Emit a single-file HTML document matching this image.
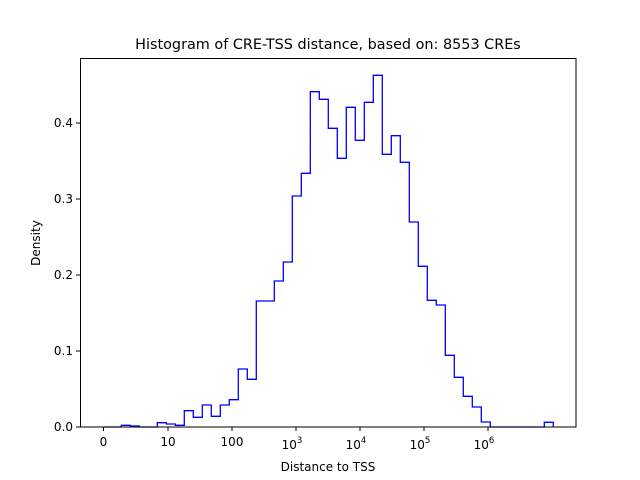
<!DOCTYPE html>
<html><head><meta charset="utf-8"><style>body{margin:0;background:#fff}svg{display:block;font-family:"DejaVu Sans","Liberation Sans",sans-serif}</style></head><body>
<svg width="640" height="480" viewBox="0 0 640 480" xmlns="http://www.w3.org/2000/svg">
<rect width="640" height="480" fill="#fff"/>
<polyline fill="none" stroke="#0000ff" stroke-width="1.3" points="
104,427 121.3,427 121.3,425.3 130.3,425.3 130.3,426 139.3,426 139.3,427 157.3,427 157.3,422.7 166.3,422.7 166.3,424 175.3,424 175.3,425.3 184.3,425.3 184.3,410.7 193.3,410.7 193.3,417.3 202.3,417.3 202.3,405 211.3,405 211.3,416.3 220.3,416.3 220.3,405 229.3,405 229.3,399.7 238.3,399.7 238.3,369 247.3,369 247.3,379.3 256.3,379.3 256.3,301 274.3,301 274.3,281 283.3,281 283.3,262 292.3,262 292.3,196 301.3,196 301.3,173.3 310.3,173.3 310.3,91.7 319.3,91.7 319.3,99.3 328.3,99.3 328.3,128.3 337.3,128.3 337.3,158.3 346.3,158.3 346.3,107.3 355.3,107.3 355.3,140.3 364.3,140.3 364.3,102.3 373.3,102.3 373.3,75.3 382.3,75.3 382.3,154.3 391.3,154.3 391.3,135.7 400.3,135.7 400.3,162.3 409.3,162.3 409.3,222 418.3,222 418.3,266.3 427.3,266.3 427.3,300.3 436.3,300.3 436.3,305 445.3,305 445.3,355.3 454.3,355.3 454.3,377.3 463.3,377.3 463.3,396.3 472.3,396.3 472.3,407 481.3,407 481.3,422 490.3,422 490.3,427 544.3,427 544.3,422.3 553.3,422.3 553.3,427"/>
<rect x="80.5" y="58.5" width="495.5" height="368.5" fill="none" stroke="#000" stroke-width="1"/>
<g stroke="#000" stroke-width="1">
<line x1="103.5" y1="427" x2="103.5" y2="431"/><line x1="168" y1="427" x2="168" y2="431"/><line x1="232" y1="427" x2="232" y2="431"/><line x1="296" y1="427" x2="296" y2="431"/><line x1="360" y1="427" x2="360" y2="431"/><line x1="424" y1="427" x2="424" y2="431"/><line x1="488" y1="427" x2="488" y2="431"/>
<line x1="76" y1="427" x2="80" y2="427"/><line x1="76" y1="351" x2="80" y2="351"/><line x1="76" y1="275" x2="80" y2="275"/><line x1="76" y1="199" x2="80" y2="199"/><line x1="76" y1="123" x2="80" y2="123"/>
</g>
<g font-size="12" fill="#000" text-anchor="middle">
<text x="103.5" y="446">0</text><text x="168" y="446">10</text><text x="232" y="446">100</text>
<text x="292" y="449">10<tspan font-size="8.5" dy="-6">3</tspan></text>
<text x="356" y="449">10<tspan font-size="8.5" dy="-6">4</tspan></text>
<text x="420" y="449">10<tspan font-size="8.5" dy="-6">5</tspan></text>
<text x="484" y="449">10<tspan font-size="8.5" dy="-6">6</tspan></text>
</g>
<g font-size="12" fill="#000" text-anchor="end">
<text x="73" y="431">0.0</text><text x="73" y="355">0.1</text><text x="73" y="279">0.2</text><text x="73" y="203">0.3</text><text x="73" y="127">0.4</text>
</g>
<text x="328" y="471" font-size="12" text-anchor="middle">Distance to TSS</text>
<text x="40" y="243" font-size="12" text-anchor="middle" transform="rotate(-90 40 243)">Density</text>
<text x="328" y="49" font-size="14.4" text-anchor="middle">Histogram of CRE-TSS distance, based on: 8553 CREs</text>
</svg>
</body></html>
